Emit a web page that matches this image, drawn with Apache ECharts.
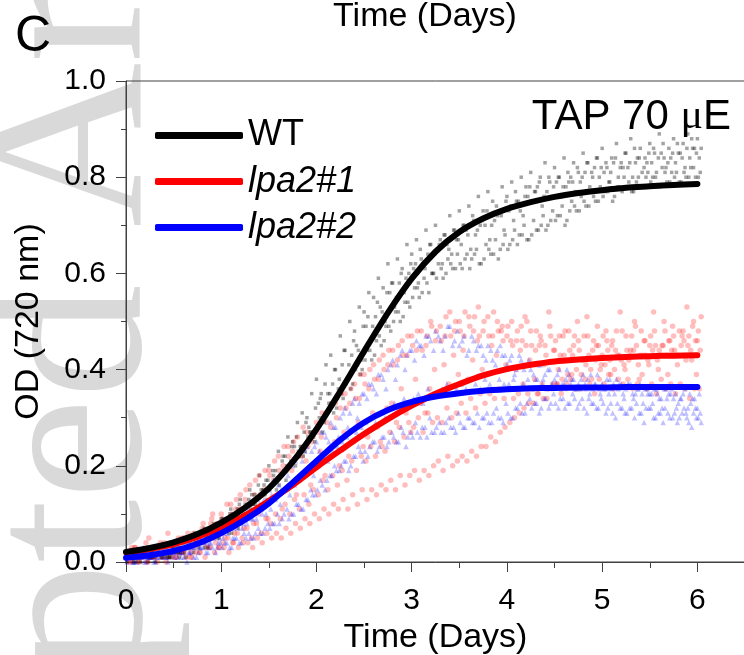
<!DOCTYPE html>
<html><head><meta charset="utf-8">
<script src="https://cdn.jsdelivr.net/npm/echarts@6/dist/echarts.min.js"></script>
<style>html,body{margin:0;padding:0;background:#fff}#c{width:744px;height:655px}</style>
</head><body><div id="c"></div>
<script>
const seriesNames = ['WT', 'lpa2#1', 'lpa2#2'];
const xTickValues = [0, 1, 2, 3, 4, 5, 6];
const xMinorTickValues = [0.5, 1.5, 2.5, 3.5, 4.5, 5.5];

// fitted growth curves (OD 720 nm vs days)
const fitDays = [0,0.25,0.5,0.75,1,1.25,1.5,1.75,2,2.25,2.5,2.75,3,3.25,3.5,3.75,4,4.25,4.5,4.75,5,5.25,5.5,5.75,6];
const fitWT   = [0.021,0.029,0.041,0.058,0.082,0.113,0.153,0.208,0.276,0.355,0.438,0.518,0.589,0.645,0.686,0.714,0.734,0.748,0.759,0.767,0.773,0.778,0.781,0.784,0.786];
const fitLpa1 = [0.02,0.027,0.037,0.052,0.072,0.097,0.127,0.16,0.197,0.232,0.266,0.297,0.325,0.35,0.37,0.388,0.401,0.41,0.417,0.421,0.424,0.426,0.428,0.429,0.43];
const fitLpa2 = [0.009,0.014,0.023,0.038,0.06,0.088,0.122,0.165,0.21,0.254,0.29,0.316,0.333,0.344,0.351,0.356,0.359,0.361,0.362,0.363,0.363,0.364,0.364,0.364,0.364];

// raw readings, one every 0.05 day per replicate culture
const sampleStep = 0.05;
const replicateStart = [0, 0.01, 0.02, 0.03, 0.04];
const wtRep1 = [.01,.02,.01,.00,.02, .02,.01,.03,.02,.01, .03,.02,.04,.03,.05, .04,.06,.05,.07,.08, .09,.07,.11,.10,.13, .12,.15,.14,.18,.16, .20,.18,.23,.22,.26, .25,.29,.31,.30,.35, .38,.35,.41,.43,.40, .47,.44,.50,.48,.53, .52,.56,.55,.59,.57, .62,.58,.63,.61,.66, .64,.67,.63,.69,.66, .70,.67,.68,.72,.69, .73,.70,.74,.71,.76, .73,.77,.75,.72,.78, .76,.79,.75,.80,.78, .81,.77,.80,.83,.79, .82,.80,.84,.79,.83, .81,.85,.83,.80,.84, .86,.82,.84,.87,.83, .85,.88,.83,.86,.84, .87,.85,.89,.84,.86, .88,.85,.87,.89,.86, .88];
const wtRep2 = [.00,.01,.00,.01,.01, .01,.00,.02,.01,.01, .02,.01,.02,.03,.02, .03,.04,.03,.05,.05, .06,.07,.06,.09,.08, .10,.11,.12,.12,.14, .15,.17,.16,.19,.20, .21,.23,.22,.26,.27, .28,.27,.31,.33,.32, .35,.37,.36,.40,.39, .42,.44,.43,.47,.46, .49,.50,.52,.51,.54, .55,.57,.56,.58,.60, .59,.61,.60,.62,.61, .62,.63,.61,.64,.62, .63,.65,.64,.63,.66, .65,.67,.66,.68,.67, .68,.69,.70,.69,.71, .71,.72,.70,.73,.74, .73,.75,.74,.76,.75, .76,.77,.75,.78,.77, .78,.77,.79,.78,.80, .79,.80,.78,.81,.79, .80,.79,.81,.80,.82, .80];
const wtRep3 = [.02,.01,.02,.01,.03, .02,.03,.01,.03,.02, .04,.02,.05,.04,.06, .05,.07,.05,.08,.07, .09,.07,.10,.11,.09, .12,.14,.11,.15,.17, .16,.19,.18,.22,.20, .24,.22,.27,.28,.26, .33,.30,.35,.37,.34, .41,.38,.43,.45,.42, .49,.46,.51,.53,.50, .56,.53,.58,.56,.60, .61,.58,.62,.64,.60, .65,.62,.66,.64,.67, .66,.69,.65,.68,.70, .70,.67,.71,.73,.69, .73,.71,.75,.72,.76, .75,.78,.74,.77,.76, .79,.76,.78,.80,.77, .79,.81,.78,.82,.80, .81,.79,.83,.80,.82, .82,.80,.84,.81,.83, .83,.81,.85,.82,.84, .83,.85,.82,.84,.86, .84];
const wtRep4 = [.01,.00,.02,.01,.00, .01,.02,.01,.02,.01, .02,.03,.01,.03,.04, .04,.03,.05,.06,.05, .07,.06,.08,.07,.10, .09,.12,.11,.14,.13, .16,.15,.18,.17,.21, .20,.24,.23,.27,.25, .30,.29,.33,.31,.36, .34,.38,.37,.41,.40, .44,.42,.46,.45,.49, .48,.52,.50,.54,.53, .57,.55,.59,.56,.60, .62,.59,.63,.61,.64, .61,.64,.63,.65,.62, .66,.64,.67,.65,.68, .66,.69,.68,.70,.67, .71,.69,.72,.70,.73, .72,.74,.71,.75,.73, .76,.74,.77,.75,.78, .77,.79,.76,.78,.80, .79,.77,.80,.78,.81, .80,.78,.82,.79,.81, .81,.79,.80,.82,.80, .81];
const wtRep5 = [.01,.02,.01,.02,.01, .02,.02,.03,.01,.03, .03,.04,.03,.05,.04, .06,.05,.07,.06,.08, .08,.10,.09,.12,.11, .13,.12,.16,.15,.17, .19,.17,.21,.20,.24, .26,.24,.29,.27,.32, .34,.37,.35,.40,.38, .44,.41,.46,.44,.49, .51,.49,.54,.52,.56, .58,.55,.60,.59,.62, .62,.65,.61,.66,.64, .66,.68,.65,.69,.67, .70,.68,.72,.69,.71, .73,.70,.74,.72,.75, .74,.77,.73,.76,.78, .77,.79,.76,.80,.78, .80,.78,.81,.79,.82, .80,.83,.81,.84,.82, .83,.81,.84,.82,.85, .83,.86,.84,.82,.85, .86,.84,.87,.83,.85, .87,.84,.86,.88,.85, .86];
const lpa1Rep1 = [.02,.00,.03,.01,.02, .01,.03,.02,.04,.01, .03,.05,.02,.06,.04, .05,.07,.06,.09,.07, .10,.08,.12,.11,.14, .13,.16,.14,.18,.15, .19,.17,.22,.20,.24, .23,.26,.22,.27,.25, .29,.26,.31,.28,.33, .32,.35,.33,.37,.34, .39,.36,.41,.38,.43, .41,.44,.42,.46,.43, .47,.44,.48,.45,.50, .46,.49,.47,.52,.48, .50,.47,.51,.48,.53, .48,.51,.47,.50,.49, .47,.50,.46,.49,.45, .48,.44,.47,.45,.49, .44,.47,.43,.48,.45, .46,.42,.47,.44,.49, .43,.46,.45,.48,.42, .47,.44,.49,.43,.46, .45,.48,.44,.50,.46, .47,.43,.48,.45,.49, .46];
const lpa1Rep2 = [.01,.03,.01,.02,.04, .02,.01,.04,.02,.03, .04,.02,.05,.03,.06, .04,.08,.06,.10,.08, .09,.12,.10,.13,.11, .15,.12,.17,.14,.19, .18,.21,.19,.24,.22, .25,.22,.28,.24,.26, .27,.31,.29,.33,.30, .35,.32,.36,.34,.39, .37,.40,.38,.42,.40, .44,.41,.45,.43,.47, .45,.48,.44,.47,.49, .48,.46,.51,.47,.50, .48,.52,.49,.51,.47, .50,.47,.52,.48,.46, .49,.45,.48,.46,.50, .45,.48,.46,.43,.47, .46,.43,.48,.44,.47, .44,.47,.43,.46,.45, .47,.44,.46,.43,.48, .44,.47,.45,.48,.43, .47,.45,.43,.48,.46, .44,.48,.46,.47,.50, .48];
const lpa1Rep3 = [.01,.00,.01,.02,.00, .01,.02,.01,.00,.02, .01,.03,.02,.01,.03, .02,.04,.03,.05,.03, .04,.05,.04,.06,.05, .07,.05,.08,.06,.09, .08,.10,.09,.12,.10, .13,.11,.14,.12,.15, .14,.17,.15,.18,.16, .19,.17,.21,.19,.22, .21,.24,.22,.25,.23, .27,.25,.28,.26,.29, .28,.30,.27,.31,.29, .30,.29,.32,.30,.31, .33,.31,.34,.32,.35, .33,.35,.34,.36,.34, .36,.34,.35,.37,.35, .36,.35,.37,.34,.36, .37,.35,.36,.38,.36, .36,.38,.37,.35,.38, .37,.39,.36,.38,.37, .38,.36,.37,.39,.36, .37,.35,.38,.36,.37, .35,.37,.36,.34,.36, .36];
const lpa1Rep4 = [.00,.01,.00,.01,.00, .01,.00,.01,.01,.02, .01,.02,.01,.02,.02, .02,.01,.03,.02,.03, .03,.02,.04,.03,.04, .04,.03,.05,.04,.06, .05,.06,.05,.07,.06, .08,.07,.09,.08,.10, .09,.11,.10,.12,.11, .13,.11,.14,.12,.15, .13,.15,.14,.16,.15, .17,.15,.18,.16,.18, .19,.17,.19,.18,.20, .21,.19,.22,.20,.21, .22,.21,.23,.22,.24, .24,.26,.25,.27,.28, .29,.30,.31,.32,.33, .33,.35,.34,.36,.37, .37,.38,.37,.39,.40, .39,.41,.40,.42,.40, .41,.42,.40,.43,.41, .42,.44,.41,.43,.42, .44,.42,.45,.43,.44, .43,.45,.42,.44,.46, .44];
const lpa1Rep5 = [.01,.03,.00,.02,.05, .01,.03,.02,.06,.01, .02,.05,.03,.01,.04, .06,.03,.08,.04,.07, .05,.09,.06,.11,.07, .12,.08,.10,.14,.09, .13,.17,.11,.15,.19, .14,.18,.21,.16,.20, .23,.18,.22,.25,.20, .27,.22,.25,.29,.24, .26,.31,.28,.24,.32, .33,.29,.36,.31,.27, .38,.33,.31,.36,.40, .35,.41,.37,.43,.39, .44,.38,.42,.46,.40, .39,.45,.43,.48,.41, .46,.40,.44,.51,.42, .38,.45,.41,.52,.44, .40,.47,.39,.43,.50, .42,.51,.38,.45,.41, .48,.39,.44,.52,.40, .43,.50,.38,.46,.41, .52,.40,.45,.39,.49, .41,.47,.53,.42,.39, .51];
const lpa2Rep1 = [.01,.02,.01,.01,.02, .01,.02,.02,.03,.01, .02,.03,.02,.04,.03, .04,.05,.04,.06,.06, .07,.08,.07,.10,.09, .10,.12,.11,.14,.13, .15,.17,.16,.19,.18, .20,.22,.21,.24,.23, .25,.27,.26,.29,.28, .30,.32,.31,.34,.33, .35,.37,.36,.39,.38, .40,.42,.41,.44,.43, .44,.46,.45,.47,.46, .48,.46,.47,.49,.46, .45,.47,.44,.46,.45, .43,.45,.42,.44,.43, .41,.43,.40,.42,.41, .40,.38,.41,.39,.40, .38,.40,.37,.39,.38, .37,.39,.38,.36,.39, .37,.38,.36,.38,.37, .36,.37,.35,.37,.36, .35,.36,.34,.36,.35, .34,.33,.35,.32,.34, .32];
const lpa2Rep2 = [.00,.01,.00,.01,.00, .01,.00,.01,.01,.02, .01,.02,.01,.02,.01, .02,.03,.02,.03,.03, .03,.04,.03,.05,.04, .05,.05,.06,.06,.07, .07,.08,.08,.10,.09, .10,.12,.11,.13,.14, .15,.16,.17,.18,.19, .20,.21,.20,.22,.23, .23,.24,.25,.24,.26, .25,.26,.25,.27,.26, .26,.27,.28,.26,.27, .28,.27,.29,.28,.27, .29,.28,.30,.29,.28, .30,.29,.31,.30,.29, .31,.30,.32,.31,.33, .32,.33,.32,.34,.33, .33,.34,.32,.33,.34, .33,.32,.34,.33,.32, .33,.32,.31,.33,.32, .31,.32,.33,.31,.32, .32,.30,.31,.32,.30, .31,.30,.32,.29,.31, .30];
const lpa2Rep3 = [.01,.00,.01,.01,.01, .01,.01,.02,.01,.02, .02,.02,.03,.02,.03, .03,.04,.03,.05,.04, .05,.06,.05,.07,.07, .08,.09,.09,.11,.10, .11,.13,.12,.15,.14, .16,.17,.18,.19,.18, .20,.22,.21,.23,.24, .25,.26,.25,.27,.28, .29,.30,.29,.31,.30, .32,.33,.32,.34,.33, .34,.35,.33,.36,.35, .35,.36,.37,.35,.36, .37,.36,.38,.37,.36, .38,.37,.36,.38,.37, .37,.38,.36,.37,.38, .36,.38,.37,.36,.37, .37,.36,.38,.37,.36, .36,.37,.35,.37,.36, .36,.35,.37,.36,.35, .37,.35,.36,.35,.36, .35,.36,.34,.36,.35, .35,.34,.36,.35,.34, .35];
const lpa2Rep4 = [.02,.00,.01,.03,.01, .02,.01,.03,.02,.04, .03,.01,.04,.02,.05, .03,.06,.04,.07,.05, .06,.09,.07,.10,.08, .11,.09,.13,.10,.15, .14,.17,.15,.19,.16, .21,.18,.23,.20,.24, .23,.27,.25,.28,.26, .31,.28,.33,.30,.35, .34,.37,.35,.39,.36, .41,.38,.43,.40,.44, .42,.45,.43,.47,.44, .47,.44,.49,.45,.48, .46,.43,.47,.44,.45, .42,.44,.41,.45,.43, .42,.39,.43,.40,.42, .39,.41,.38,.40,.37, .39,.37,.40,.38,.36, .38,.36,.39,.37,.35, .36,.38,.35,.37,.34, .37,.34,.36,.33,.35, .33,.35,.32,.34,.36, .32,.34,.31,.33,.32, .31];
const lpa2Rep5 = [.01,.00,.02,.00,.01, .00,.02,.01,.00,.02, .01,.02,.00,.03,.01, .03,.02,.04,.02,.04, .04,.03,.05,.04,.06, .06,.05,.07,.06,.08, .08,.10,.09,.11,.10, .12,.11,.13,.15,.14, .17,.15,.18,.20,.19, .21,.19,.22,.24,.21, .22,.25,.23,.26,.24, .27,.25,.28,.24,.27, .29,.26,.28,.30,.27, .29,.27,.30,.28,.31, .28,.30,.29,.31,.30, .31,.29,.32,.30,.33, .30,.32,.33,.31,.34, .33,.31,.34,.32,.35, .32,.34,.33,.35,.32, .34,.31,.33,.32,.34, .31,.33,.30,.32,.31, .32,.30,.31,.29,.32, .30,.31,.29,.31,.30, .29,.31,.30,.28,.30, .29];

const FONT = '"Liberation Sans", Arial, sans-serif';
const pts = (rep, r) => rep.map((v, i) => [replicateStart[r] + i * sampleStep, v]);
const fitPts = vals => vals.map((v, i) => [fitDays[i], v]);

function scatter(name, rep, r, symbol, size, color) {
  return { name: name, type: 'scatter', data: pts(rep, r), symbol: symbol, symbolSize: size,
    itemStyle: { color: color }, silent: true, z: 2 };
}
function fit(name, vals, color, z) {
  return { name: name, type: 'line', data: fitPts(vals), smooth: 0.3, symbol: 'none', showSymbol: false,
    lineStyle: { color: color, width: 6, cap: 'round', join: 'round' }, itemStyle: { color: color }, z: z, silent: true };
}

const redPt = 'rgba(255,0,0,0.32)', bluePt = 'rgba(0,0,255,0.3)', blackPt = 'rgba(0,0,0,0.45)';
const chart = echarts.init(document.getElementById('c'), null, { renderer: 'canvas' });
chart.setOption({
  animation: false,
  backgroundColor: '#fff',
  grid: { left: 126, right: -1, top: 81, bottom: 93, containLabel: false, outerBoundsMode: 'none',
    show: true, borderColor: '#404040', borderWidth: 1, backgroundColor: 'transparent' },
  xAxis: [{
    type: 'value', min: 0, max: 6.5, interval: 1,
    name: 'Time (Days)', nameLocation: 'middle', nameGap: 53,
    nameTextStyle: { fontSize: 34, fontFamily: FONT, color: '#000' },
    axisLine: { show: true, onZero: false, lineStyle: { color: '#404040', width: 1 } },
    axisTick: { show: true, length: 10, lineStyle: { color: '#404040' }, customValues: xTickValues },
    axisLabel: { fontSize: 30, fontFamily: FONT, color: '#000', margin: 24, customValues: xTickValues },
    splitLine: { show: false }
  }, {
    type: 'value', min: 0, max: 6.5, position: 'bottom', gridIndex: 0,
    axisLine: { show: false },
    axisTick: { show: true, length: 6, lineStyle: { color: '#404040' }, customValues: xMinorTickValues },
    axisLabel: { show: false }, splitLine: { show: false }
  }],
  yAxis: {
    type: 'value', min: 0, max: 1, interval: 0.2,
    name: 'OD (720 nm)', nameLocation: 'middle', nameGap: 80, nameRotate: 90,
    nameTextStyle: { fontSize: 34, fontFamily: FONT, color: '#000' },
    axisLine: { show: true, lineStyle: { color: '#404040', width: 1 } },
    axisTick: { show: true, length: 10, lineStyle: { color: '#404040' } },
    minorTick: { show: true, splitNumber: 2, length: 5, lineStyle: { color: '#404040' } },
    axisLabel: { fontSize: 30, fontFamily: FONT, color: '#000', margin: 20, formatter: v => v.toFixed(1) },
    splitLine: { show: false }, minorSplitLine: { show: false }
  },
  legend: {
    orient: 'vertical', left: 150, top: 110, itemWidth: 88, itemHeight: 7, itemGap: 5, icon: 'roundRect',
    data: [
      { name: seriesNames[0] },
      { name: seriesNames[1], textStyle: { fontStyle: 'italic' } },
      { name: seriesNames[2], textStyle: { fontStyle: 'italic' } }
    ],
    textStyle: { fontSize: 36, fontFamily: FONT, color: '#000', lineHeight: 41 },
    selectedMode: false
  },
  graphic: [
    { type: 'text', x: 80, y: 1145, rotation: Math.PI / 2, z: -10, silent: true,
      style: { text: 'Accepted Article', font: '228px "Liberation Serif", serif', fill: '#d9d9d9', textAlign: 'left', textVerticalAlign: 'middle', align: 'left', verticalAlign: 'middle' } },
    { type: 'text', x: 15, y: 37, z: 10, silent: true,
      style: { text: 'C', font: '50px ' + FONT, fill: '#000', textVerticalAlign: 'middle', verticalAlign: 'middle' } },
    { type: 'text', x: 425, y: 17, z: 10, silent: true,
      style: { text: 'Time (Days)', font: '34px ' + FONT, fill: '#000', textAlign: 'center', align: 'center', textVerticalAlign: 'middle', verticalAlign: 'middle' } },
    { type: 'text', x: 731, y: 117, z: 10, silent: true,
      style: { text: '{a|TAP 70 }{m|\u03bc}{a|E}', textAlign: 'right', align: 'right', textVerticalAlign: 'middle', verticalAlign: 'middle',
        rich: { a: { fontSize: 42, fontFamily: FONT, color: '#000' }, m: { fontSize: 42, fontFamily: '"Liberation Serif", serif', color: '#000' } } } }
  ],
  series: [
    scatter('lpa2#1 data', lpa1Rep1, 0, 'circle', 5.5, redPt),
    scatter('lpa2#1 data', lpa1Rep2, 1, 'circle', 5.5, redPt),
    scatter('lpa2#1 data', lpa1Rep3, 2, 'circle', 5.5, redPt),
    scatter('lpa2#1 data', lpa1Rep4, 3, 'circle', 5.5, redPt),
    scatter('lpa2#1 data', lpa1Rep5, 4, 'circle', 5.5, redPt),
    scatter('lpa2#2 data', lpa2Rep1, 0, 'triangle', 5.5, bluePt),
    scatter('lpa2#2 data', lpa2Rep2, 1, 'triangle', 5.5, bluePt),
    scatter('lpa2#2 data', lpa2Rep3, 2, 'triangle', 5.5, bluePt),
    scatter('lpa2#2 data', lpa2Rep4, 3, 'triangle', 5.5, bluePt),
    scatter('lpa2#2 data', lpa2Rep5, 4, 'triangle', 5.5, bluePt),
    scatter('WT data', wtRep1, 0, 'rect', 3.5, blackPt),
    scatter('WT data', wtRep2, 1, 'rect', 3.5, blackPt),
    scatter('WT data', wtRep3, 2, 'rect', 3.5, blackPt),
    scatter('WT data', wtRep4, 3, 'rect', 3.5, blackPt),
    scatter('WT data', wtRep5, 4, 'rect', 3.5, blackPt),
    fit(seriesNames[1], fitLpa1, '#ff0000', 5),
    fit(seriesNames[2], fitLpa2, '#0000ff', 6),
    fit(seriesNames[0], fitWT, '#000000', 7)
  ]
});
</script></body></html>
